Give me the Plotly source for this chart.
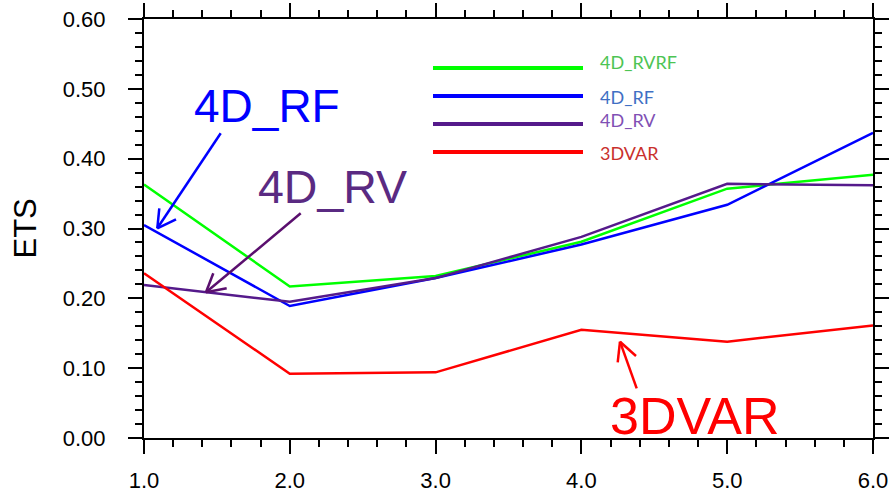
import plotly.graph_objects as go

# ---- data ----
x_vals = [1.0, 2.0, 3.0, 4.0, 5.0, 6.0]
rvrf = [0.363, 0.217, 0.232, 0.281, 0.357, 0.377]
rf = [0.305, 0.189, 0.229, 0.277, 0.334, 0.437]
rv = [0.219, 0.195, 0.229, 0.288, 0.364, 0.362]
var3d = [0.236, 0.092, 0.094, 0.155, 0.138, 0.161]
series_names = ["4D_RVRF", "4D_RF", "4D_RV", "3DVAR"]
line_colors = ["#00FF00", "#0000FF", "#551A8B", "#FF0000"]
label_colors = ["#4DC453", "#3F6FC4", "#8050B4", "#C9302C"]
y_tick_vals = [0.0, 0.1, 0.2, 0.3, 0.4, 0.5, 0.6]
x_tick_vals = [1.0, 2.0, 3.0, 4.0, 5.0, 6.0]

W, H = 893, 496
ML, MR, MT, MB = 144, 20, 19, 58
PW, PH = W - ML - MR, H - MT - MB

def px_x(p):
    return (p - ML) / PW

def px_y(p):
    return 1 - (p - MT) / PH

fig = go.Figure()
for name, ys, col in zip(series_names, [rvrf, rf, rv, var3d], line_colors):
    fig.add_trace(go.Scatter(x=x_vals, y=ys, mode="lines", name=name,
                             line=dict(color=col, width=2.5), showlegend=False))

axis_common = dict(
    showgrid=False, zeroline=False, showline=True, linecolor="black", linewidth=2,
    ticks="outside", ticklen=14, tickwidth=2, tickcolor="black", mirror="ticks",
    automargin=False,
    tickfont=dict(family="Liberation Sans, Arial, sans-serif", size=22, color="black"),
)
fig.update_xaxes(range=[1, 6], tickvals=x_tick_vals, tickformat=".1f",
                 minor=dict(dtick=0.2, ticklen=7, tickwidth=1.5, tickcolor="black", ticks="outside"),
                 ticklabelstandoff=8, **axis_common)
fig.update_yaxes(range=[0, 0.6], tickvals=y_tick_vals, tickformat=".2f",
                 minor=dict(dtick=0.02, ticklen=7, tickwidth=1.5, tickcolor="black", ticks="outside"),
                 ticklabelstandoff=18, **axis_common)

# legend drawn manually
legend_y = [68, 96, 124, 152]
legend_label_y = [61.7, 96.7, 119.7, 152.5]
shapes = []
annotations = []
for i, name in enumerate(series_names):
    shapes.append(dict(type="line", xref="paper", yref="paper",
                       x0=px_x(433), x1=px_x(583), y0=px_y(legend_y[i]), y1=px_y(legend_y[i]),
                       line=dict(color=line_colors[i], width=4)))
    annotations.append(dict(xref="paper", yref="paper", x=px_x(598), y=px_y(legend_label_y[i]),
                            xanchor="left", yanchor="middle", text=name, showarrow=False,
                            font=dict(family="Lato, sans-serif", size=18, color=label_colors[i])))

# big labels
big = [("4D_RF", 266.7, 106.5, "#0000FF", 46),
       ("4D_RV", 332, 187, "#5A2A82", 46.5),
       ("3DVAR", 695, 416, "#FF0000", 52)]
for t, cx, cy, col, sz in big:
    annotations.append(dict(xref="paper", yref="paper", x=px_x(cx), y=px_y(cy),
                            xanchor="center", yanchor="middle", text=t, showarrow=False,
                            font=dict(family="Liberation Sans, Arial, sans-serif", size=sz, color=col)))

# arrows: tail, tip, two arm ends (pixel positions)
arrows = [((220.7, 133.3), (157.3, 228.3), (159.3, 208.3), (176, 219.3), "#0000FF"),
          ((300.7, 213.3), (206, 292.3), (213.3, 273.3), (226.7, 288.3), "#5A0F6E"),
          ((636.7, 388.3), (620, 341.7), (617.7, 362.3), (636, 356), "#FF0000")]
for tail, tip, a1, a2, col in arrows:
    for start in (tail, a1, a2):
        shapes.append(dict(type="line", xref="paper", yref="paper",
                           x0=px_x(start[0]), y0=px_y(start[1]), x1=px_x(tip[0]), y1=px_y(tip[1]),
                           line=dict(color=col, width=2.5)))

annotations.append(dict(xref="paper", yref="paper", x=px_x(25), y=0.5, text="ETS",
                        textangle=-90, showarrow=False, xanchor="center", yanchor="middle",
                        font=dict(family="Liberation Sans, Arial, sans-serif", size=31, color="black")))

fig.update_layout(width=W, height=H, margin=dict(l=ML, r=MR, t=MT, b=MB),
                  plot_bgcolor="white", paper_bgcolor="white",
                  shapes=shapes, annotations=annotations, showlegend=False)

fig.write_html("out.html")
